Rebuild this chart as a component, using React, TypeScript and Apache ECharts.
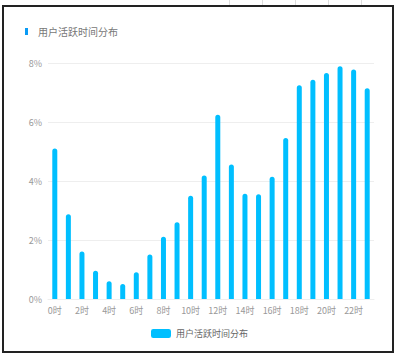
import React, { useEffect, useRef } from "react";
import * as echarts from "echarts";

const hours: string[] = Array.from({ length: 24 }, (_, i) => `${i}时`);
const activeShare: number[] = [
  5.1, 2.87, 1.61, 0.96, 0.6, 0.51, 0.91, 1.51, 2.11, 2.6, 3.5, 4.19,
  6.25, 4.56, 3.57, 3.55, 4.14, 5.46, 7.25, 7.43, 7.66, 7.89, 7.78, 7.14,
];
const seriesName = "用户活跃时间分布";
const yTicks = { min: 0, max: 8, interval: 2 };

const FONT = '"Noto Sans CJK SC", "Noto Sans", sans-serif';

export default function App() {
  const ref = useRef<HTMLDivElement>(null);
  useEffect(() => {
    if (!ref.current) return;
    const chart = echarts.init(ref.current, undefined, { renderer: "svg" });
    chart.setOption({
      animation: false,
      textStyle: { fontFamily: FONT },
      grid: { left: 48, right: 25, top: 63, bottom: 62 },
      graphic: [
        { type: "rect", shape: { x: 25, y: 28, width: 3, height: 7 }, style: { fill: "#0a9bf5" } },
        {
          type: "text",
          x: 38,
          y: 31.5,
          style: { text: seriesName, fill: "#777", font: `10px ${FONT}`, verticalAlign: "middle" },
        },
      ],
      legend: {
        bottom: 18,
        left: "center",
        itemWidth: 20,
        itemHeight: 9,
        itemGap: 10,
        icon: "roundRect",
        textStyle: { color: "#666", fontSize: 9 },
        data: [seriesName],
      },
      xAxis: {
        type: "category",
        data: hours,
        axisLine: { lineStyle: { color: "#eee" } },
        axisTick: { show: false },
        axisLabel: { color: "#999", fontSize: 9, interval: 1, margin: 7 },
      },
      yAxis: {
        type: "value",
        min: yTicks.min,
        max: yTicks.max,
        interval: yTicks.interval,
        axisLine: { show: false },
        axisTick: { show: false },
        axisLabel: { color: "#999", fontSize: 9, formatter: "{value}%", margin: 6 },
        splitLine: { lineStyle: { color: "#eee" } },
      },
      series: [
        {
          name: seriesName,
          type: "bar",
          data: activeShare,
          barWidth: 5,
          itemStyle: { color: "#00bfff", borderRadius: [2.5, 2.5, 0, 0] },
        },
      ],
    });
    return () => chart.dispose();
  }, []);

  const tableLines = [229, 262, 295, 328, 361];
  return (
    <div style={{ position: "fixed", left: 0, top: 0, width: 399, height: 361, background: "#fff" }}>
      <div style={{ position: "absolute", left: 229, top: 0, width: 166, height: 5, background: "#fff" }}>
        {tableLines.map((x) => (
          <div key={x} style={{ position: "absolute", left: x - 229, top: 0, width: 1, height: 5, background: "#ddd" }} />
        ))}
      </div>
      <div
        style={{
          position: "absolute",
          left: 2,
          top: 5,
          width: 388,
          height: 344,
          border: "2px solid #222",
          boxSizing: "content-box",
        }}
      />
      <div ref={ref} style={{ position: "absolute", left: 0, top: 0, width: 399, height: 361 }} />
    </div>
  );
}
